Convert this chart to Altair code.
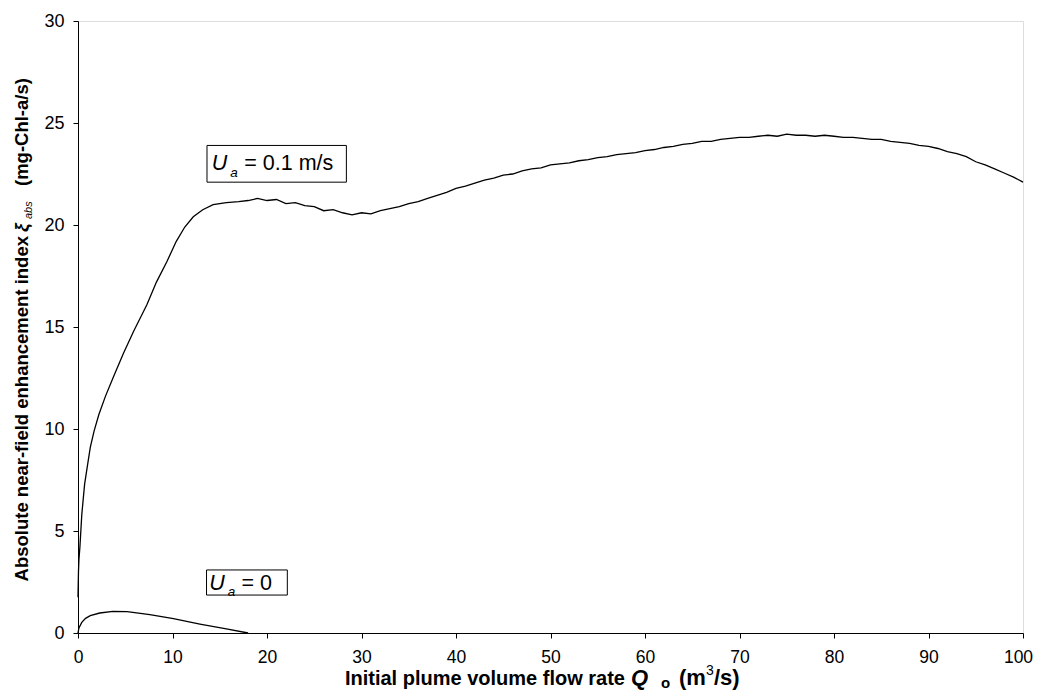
import altair as alt
import pandas as pd

# U_a = 0.1 m/s curve
q_fast = [0, 0.05, 0.1, 0.2, 0.4, 0.7, 1.0, 1.3, 1.7, 2.2, 2.9, 3.7, 4.8, 5.9, 7.3, 8.3, 9.4,
          10.4, 11.3, 12.2, 13.2, 14.3, 15.7,
          17, 18, 19, 20, 21, 22, 23, 24, 25, 26, 27, 28, 29, 30, 31, 32, 33, 34, 35, 36, 37, 38, 39,
          40, 41, 42, 43, 44, 45, 46, 47, 48, 49, 50, 51, 52, 53, 54, 55, 56, 57, 58, 59,
          60, 61, 62, 63, 64, 65, 66, 67, 68, 69, 70, 71, 72, 73, 74, 75, 76, 77, 78, 79,
          80, 81, 82, 83, 84, 85, 86, 87, 88, 89, 90, 91, 92, 93, 94, 95, 96, 97, 98, 99, 100]
xi_fast = [1.75, 3.0, 3.6, 4.2, 5.8, 7.3, 8.2, 9.1, 9.9, 10.7, 11.6, 12.5, 13.7, 14.8, 16.1, 17.2, 18.2,
           19.2, 19.9, 20.4, 20.75, 21.0, 21.1,
           21.15, 21.2, 21.3, 21.2, 21.25, 21.05, 21.1, 20.95, 20.9, 20.7, 20.75, 20.6, 20.5, 20.6, 20.55,
           20.7, 20.8, 20.9, 21.05, 21.15, 21.3, 21.45, 21.6,
           21.8, 21.9, 22.05, 22.2, 22.3, 22.45, 22.5, 22.65, 22.75, 22.8, 22.95, 23.0, 23.05, 23.15,
           23.2, 23.3, 23.35, 23.45, 23.5, 23.55,
           23.65, 23.7, 23.8, 23.85, 23.95, 24.0, 24.1, 24.1, 24.2, 24.25, 24.3, 24.3, 24.35, 24.4,
           24.35, 24.45, 24.4, 24.4, 24.35, 24.4,
           24.35, 24.3, 24.3, 24.25, 24.2, 24.2, 24.1, 24.05, 24.0, 23.9, 23.85, 23.75, 23.6, 23.5,
           23.35, 23.1, 22.95, 22.75, 22.55, 22.35, 22.1]

# U_a = 0 curve
q_still = [0, 0.1, 0.4, 0.8, 1.3, 2.3, 3.7, 5.2, 7.6, 10.1, 12.9, 15.7, 18.0]
xi_still = [0.0, 0.25, 0.52, 0.72, 0.85, 0.98, 1.06, 1.05, 0.9, 0.70, 0.44, 0.2, 0.0]

x_ticks = [0, 10, 20, 30, 40, 50, 60, 70, 80, 90, 100]
y_ticks = [0, 5, 10, 15, 20, 25, 30]

# annotation boxes (data coords)
box_x = [13.65, 13.6]
box_x2 = [28.4, 22.15]
box_y = [23.9, 3.09]
box_y2 = [22.1, 1.86]
lab_u_x = [14.15, 13.9]
lab_u_y = [22.7, 2.12]
lab_a_x = [16.1, 15.85]
lab_a_y = [22.35, 1.8]
lab_rest_x = [17.6, 17.3]
lab_rest = ["= 0.1 m/s", "= 0"]

FONT = "Liberation Sans"
W, H = 945, 612

df = pd.concat([
    pd.DataFrame({"q": q_fast, "xi": xi_fast, "s": "fast"}),
    pd.DataFrame({"q": q_still, "xi": xi_still, "s": "still"}),
])

xs = alt.Scale(domain=[0, 100], nice=False, zero=False)
ys = alt.Scale(domain=[0, 30], nice=False, zero=False)

x_axis = alt.Axis(values=x_ticks, title=None, grid=False, tickSize=5, labelFontSize=17.5,
                  labelFont=FONT, labelColor="black", labelPadding=10, domainColor="black",
                  tickColor="black", labelFlush=False,
                  labelOffset={"condition": {"test": "datum.value == 100", "value": -5}, "value": 0})
y_axis = alt.Axis(values=y_ticks, title=None, grid=False, tickSize=5, labelFontSize=18,
                  labelFont=FONT, labelColor="black", labelPadding=9, domainColor="black",
                  tickColor="black", labelFlush=False)

lines = alt.Chart(df).mark_line(color="black", strokeWidth=1.3).encode(
    x=alt.X("q:Q", scale=xs, axis=x_axis),
    y=alt.Y("xi:Q", scale=ys, axis=y_axis),
    detail="s:N",
    order="q:Q",
)

boxdf = pd.DataFrame({"x": box_x, "x2": box_x2, "y": box_y, "y2": box_y2})
boxes = alt.Chart(boxdf).mark_rect(fill="white", stroke="black", strokeWidth=1).encode(
    x=alt.X("x:Q", scale=xs), x2="x2:Q", y=alt.Y("y:Q", scale=ys), y2="y2:Q")

udf = pd.DataFrame({"x": lab_u_x, "y": lab_u_y, "t": ["U", "U"]})
u_txt = alt.Chart(udf).mark_text(font=FONT, fontSize=21.5, fontStyle="italic", align="left",
                                 baseline="alphabetic", color="black").encode(
    x=alt.X("x:Q", scale=xs), y=alt.Y("y:Q", scale=ys), text="t:N")
adf = pd.DataFrame({"x": lab_a_x, "y": lab_a_y, "t": ["a", "a"]})
a_txt = alt.Chart(adf).mark_text(font=FONT, fontSize=13.5, fontStyle="italic", align="left",
                                 baseline="alphabetic", color="black").encode(
    x=alt.X("x:Q", scale=xs), y=alt.Y("y:Q", scale=ys), text="t:N")
rdf = pd.DataFrame({"x": lab_rest_x, "y": lab_u_y, "t": lab_rest})
r_txt = alt.Chart(rdf).mark_text(font=FONT, fontSize=21.5, align="left",
                                 baseline="alphabetic", color="black").encode(
    x=alt.X("x:Q", scale=xs), y=alt.Y("y:Q", scale=ys), text="t:N")


def piece(text, x, y, size, align, weight="bold", style="normal", angle=0, baseline="alphabetic"):
    d = pd.DataFrame({"t": [text]})
    kw = dict(font=FONT, fontSize=size, fontWeight=weight, fontStyle=style, align=align,
              baseline=baseline, color="black")
    if angle:
        kw["angle"] = angle
    return alt.Chart(d).mark_text(**kw).encode(x=alt.value(x), y=alt.value(y), text="t:N")


# x-axis title pieces (plot-relative px)
xt_y = 664
xt = [
    piece("Initial plume volume flow rate ", 547, xt_y, 20, "right"),
    piece("Q", 553, xt_y, 22, "left", style="italic"),
    piece("o", 583, xt_y + 3, 15, "left"),
    piece("(m", 601, xt_y, 22, "left"),
    piece("3", 628, xt_y - 10, 14, "left", weight="normal"),
    piece("/s)", 636, xt_y, 22, "left"),
]

# y-axis title pieces (rotated)
yt_x = -50
yt = [
    piece("Absolute near-field enhancement index ", yt_x, 236 - 21, 18.5, "right", angle=270),
    piece("\u03be", yt_x, 232 - 21, 19, "left", style="italic", angle=270),
    piece("abs", yt_x + 4, 219 - 21, 11, "left", weight="normal", style="italic", angle=270),
    piece("(mg-Chl-a/s)", yt_x, 186 - 21, 18.5, "left", angle=270),
]

chart = alt.layer(lines, boxes, u_txt, a_txt, r_txt, *xt, *yt).properties(
    width=W, height=H,
    autosize=alt.AutoSizeParams(type="none"),
    padding={"left": 70, "top": 13, "right": 11, "bottom": 57},
).configure_view(stroke="#8a8a8a", strokeWidth=1.5).configure(background="white")

chart.save("out.html", embed_options={"renderer": "svg", "actions": False})
